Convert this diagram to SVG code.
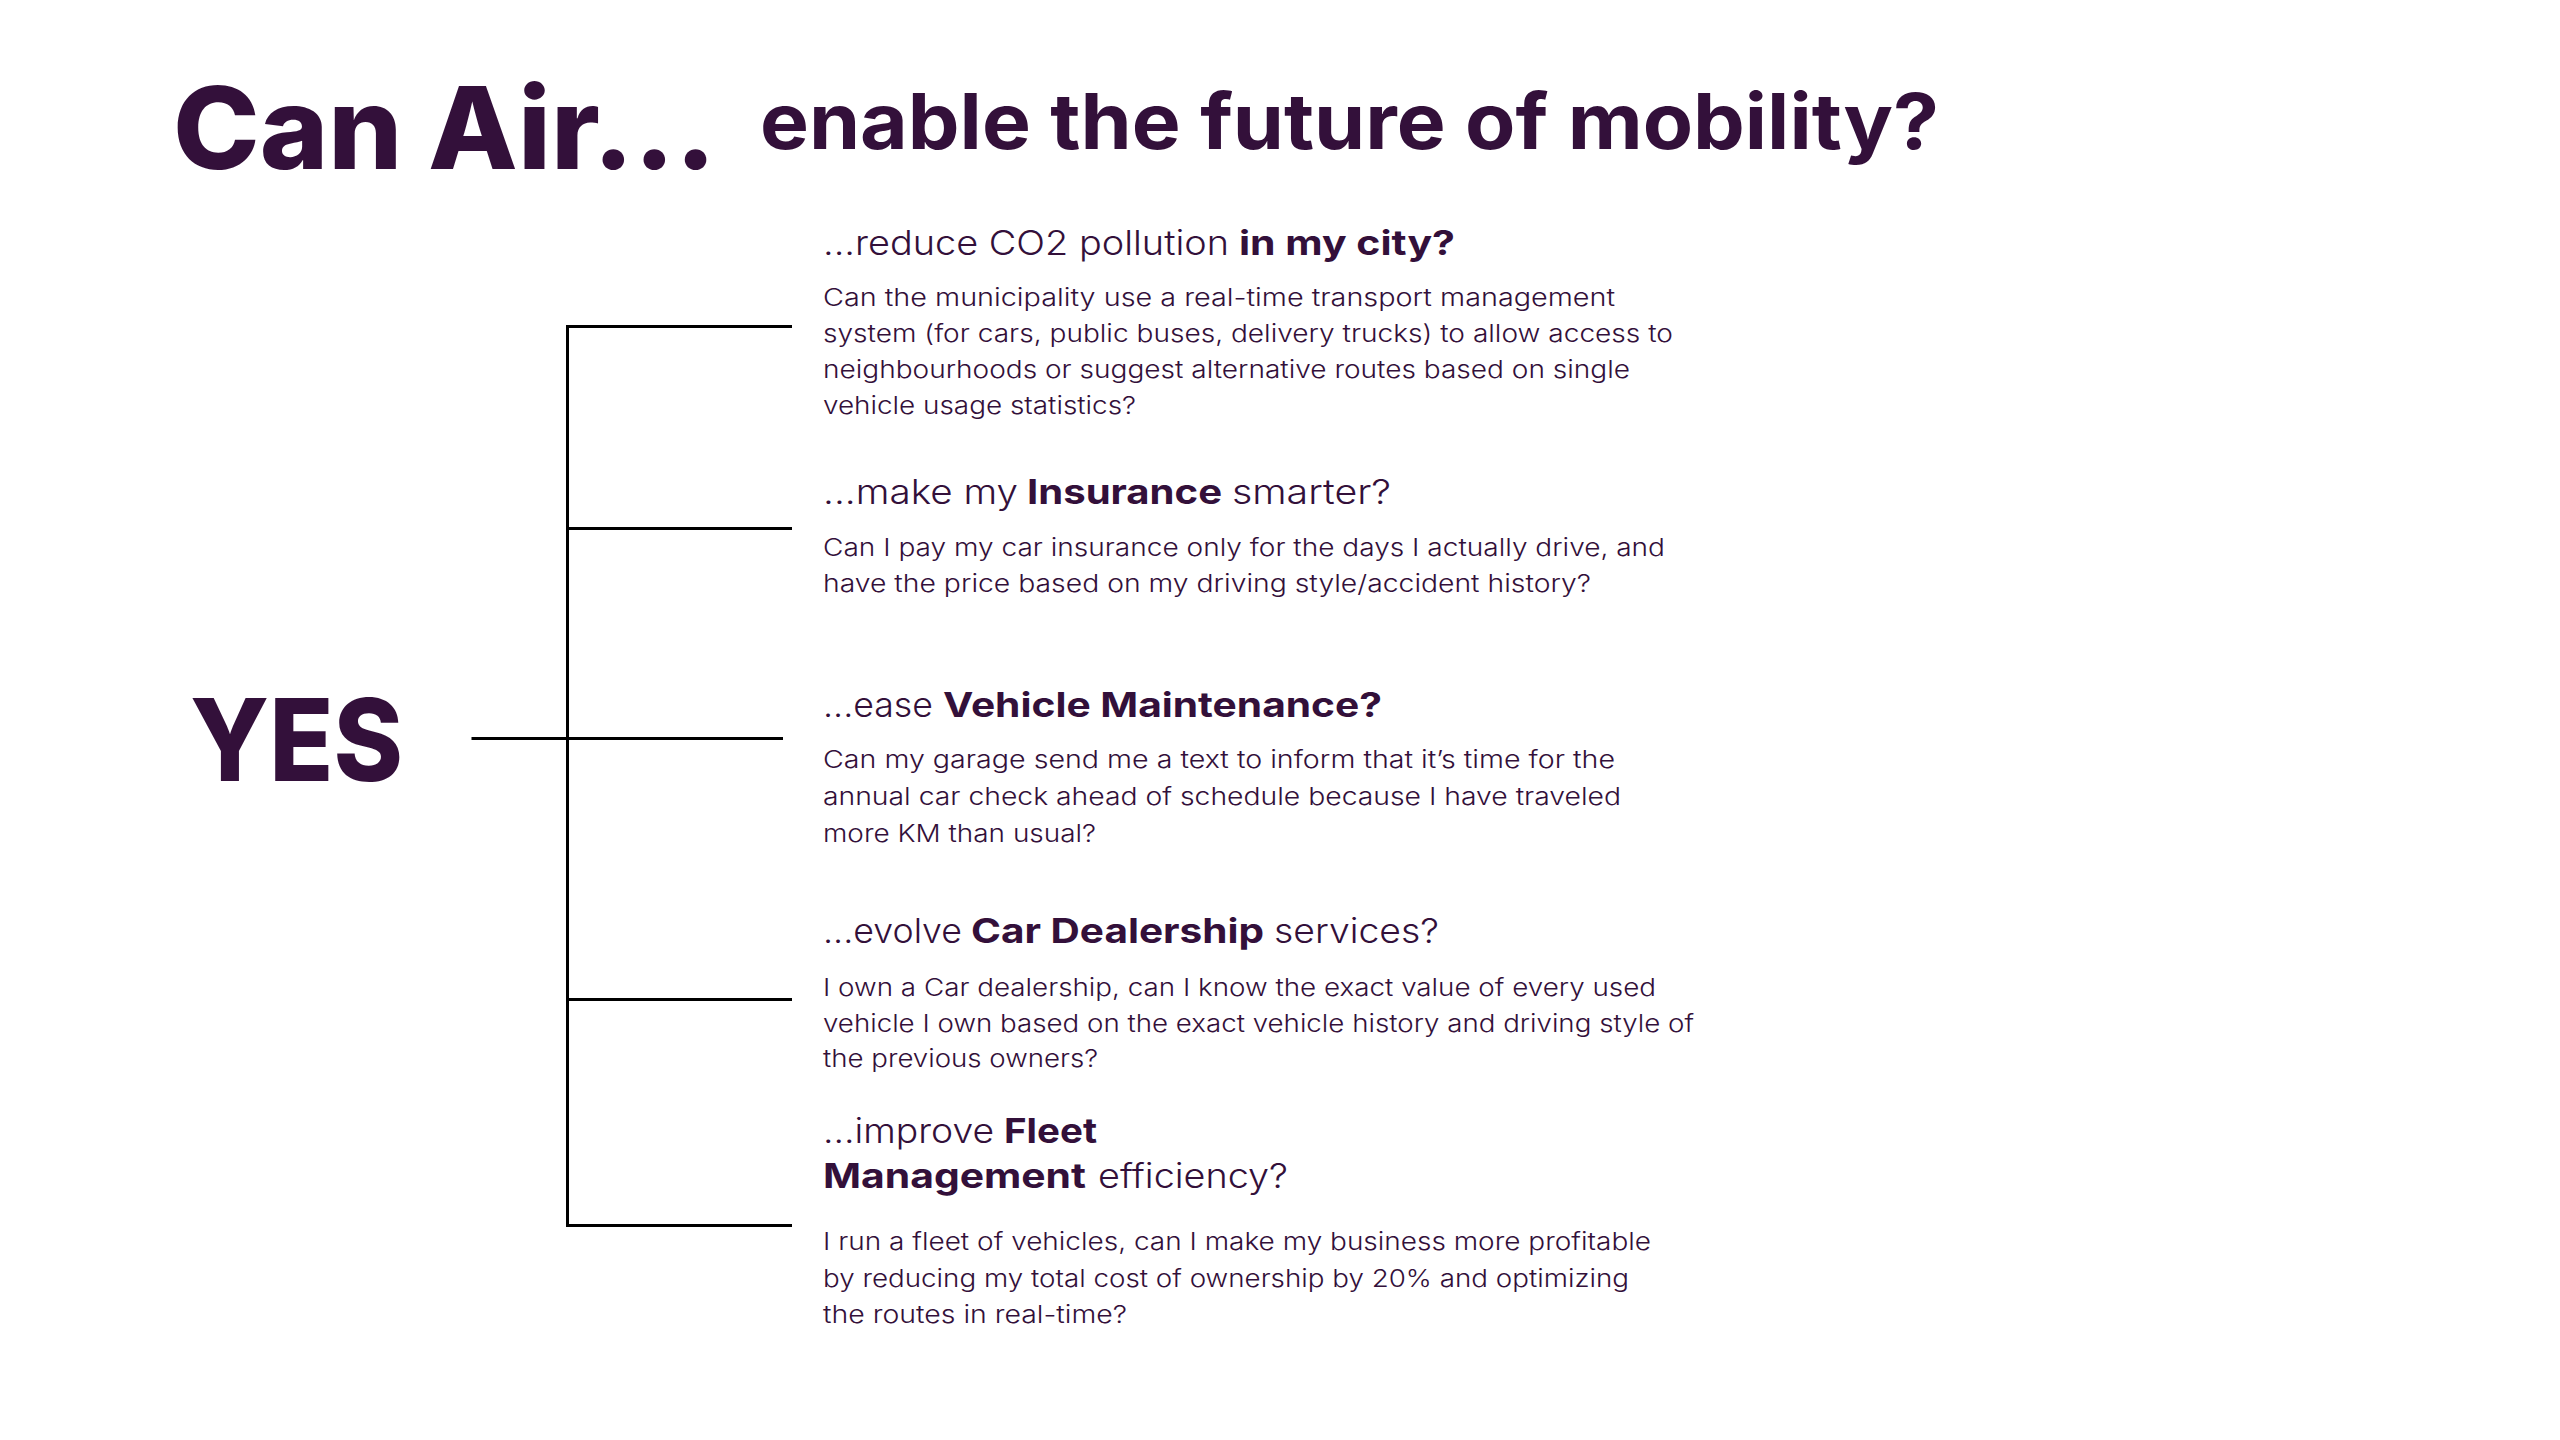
<svg xmlns="http://www.w3.org/2000/svg" width="2560" height="1440" viewBox="0 0 2560 1440">
<style>
  text { fill: #33103a; font-family: Inter, Lato, "Noto Sans", sans-serif; }
  .title { font-size: 114px; font-weight: 800; }
  .sub { font-size: 77px; font-weight: 700; }
  .yes { font-size: 114px; font-weight: 800; }
  .h { font-size: 34px; }
  .l { font-weight: 300; }
  .b { font-weight: 700; }
  .body { font-size: 24px; font-weight: 300; }
  .conn { fill: none; stroke: #000; stroke-width: 3; }
</style>
<rect width="2560" height="1440" fill="#fff"/>
<g id="title">
  <text class="title" x="173" y="169" textLength="543" lengthAdjust="spacingAndGlyphs">Can Air...</text>
  <text class="sub" x="760" y="149" textLength="1179" lengthAdjust="spacingAndGlyphs">enable the future of mobility?</text>
</g>
<g id="yes">
  <text class="yes" x="190" y="781" textLength="213" lengthAdjust="spacingAndGlyphs">YES</text>
</g>
<g id="connectors">
  <path class="conn" d="M792,326.5 H567.5 V1225.5 H792"/>
  <path class="conn" d="M567.5,528.5 H792"/>
  <path class="conn" d="M567.5,999.5 H792"/>
  <path class="conn" d="M471.5,738.5 H783"/>
</g>
<g id="branch-city">
  <text class="h l" x="823" y="255" textLength="406" lengthAdjust="spacingAndGlyphs">...reduce CO2 pollution</text>
  <text class="h b" x="1239" y="255" textLength="216" lengthAdjust="spacingAndGlyphs">in my city?</text>
  <text class="body" x="823" y="306" textLength="792" lengthAdjust="spacingAndGlyphs">Can the municipality use a real-time transport management</text>
  <text class="body" x="823" y="342" textLength="850" lengthAdjust="spacingAndGlyphs">system (for cars, public buses, delivery trucks) to allow access to</text>
  <text class="body" x="823" y="378" textLength="807" lengthAdjust="spacingAndGlyphs">neighbourhoods or suggest alternative routes based on single</text>
  <text class="body" x="823" y="414" textLength="313" lengthAdjust="spacingAndGlyphs">vehicle usage statistics?</text>
</g>
<g id="branch-insurance">
  <text class="h l" x="823" y="504" textLength="195" lengthAdjust="spacingAndGlyphs">...make my</text>
  <text class="h b" x="1027" y="504" textLength="195" lengthAdjust="spacingAndGlyphs">Insurance</text>
  <text class="h l" x="1232" y="504" textLength="159" lengthAdjust="spacingAndGlyphs">smarter?</text>
  <text class="body" x="823" y="556" textLength="842" lengthAdjust="spacingAndGlyphs">Can I pay my car insurance only for the days I actually drive, and</text>
  <text class="body" x="823" y="592" textLength="768" lengthAdjust="spacingAndGlyphs">have the price based on my driving style/accident history?</text>
</g>
<g id="branch-maintenance">
  <text class="h l" x="823" y="717" textLength="110" lengthAdjust="spacingAndGlyphs">...ease</text>
  <text class="h b" x="943" y="717" textLength="439" lengthAdjust="spacingAndGlyphs">Vehicle Maintenance?</text>
  <text class="body" x="823" y="768" textLength="792" lengthAdjust="spacingAndGlyphs">Can my garage send me a text to inform that it’s time for the</text>
  <text class="body" x="823" y="805" textLength="798" lengthAdjust="spacingAndGlyphs">annual car check ahead of schedule because I have traveled</text>
  <text class="body" x="823" y="842" textLength="273" lengthAdjust="spacingAndGlyphs">more KM than usual?</text>
</g>
<g id="branch-dealership">
  <text class="h l" x="823" y="943" textLength="139" lengthAdjust="spacingAndGlyphs">...evolve</text>
  <text class="h b" x="971" y="943" textLength="293" lengthAdjust="spacingAndGlyphs">Car Dealership</text>
  <text class="h l" x="1274" y="943" textLength="165" lengthAdjust="spacingAndGlyphs">services?</text>
  <text class="body" x="823" y="996" textLength="833" lengthAdjust="spacingAndGlyphs">I own a Car dealership, can I know the exact value of every used</text>
  <text class="body" x="823" y="1032" textLength="871" lengthAdjust="spacingAndGlyphs">vehicle I own based on the exact vehicle history and driving style of</text>
  <text class="body" x="823" y="1067" textLength="275" lengthAdjust="spacingAndGlyphs">the previous owners?</text>
</g>
<g id="branch-fleet">
  <text class="h l" x="823" y="1143" textLength="171" lengthAdjust="spacingAndGlyphs">...improve</text>
  <text class="h b" x="1004" y="1143" textLength="93" lengthAdjust="spacingAndGlyphs">Fleet</text>
  <text class="h b" x="823" y="1188" textLength="263" lengthAdjust="spacingAndGlyphs">Management</text>
  <text class="h l" x="1098" y="1188" textLength="190" lengthAdjust="spacingAndGlyphs">efficiency?</text>
  <text class="body" x="823" y="1250" textLength="828" lengthAdjust="spacingAndGlyphs">I run a fleet of vehicles, can I make my business more profitable</text>
  <text class="body" x="823" y="1287" textLength="806" lengthAdjust="spacingAndGlyphs">by reducing my total cost of ownership by 20% and optimizing</text>
  <text class="body" x="823" y="1323" textLength="304" lengthAdjust="spacingAndGlyphs">the routes in real-time?</text>
</g>
</svg>
